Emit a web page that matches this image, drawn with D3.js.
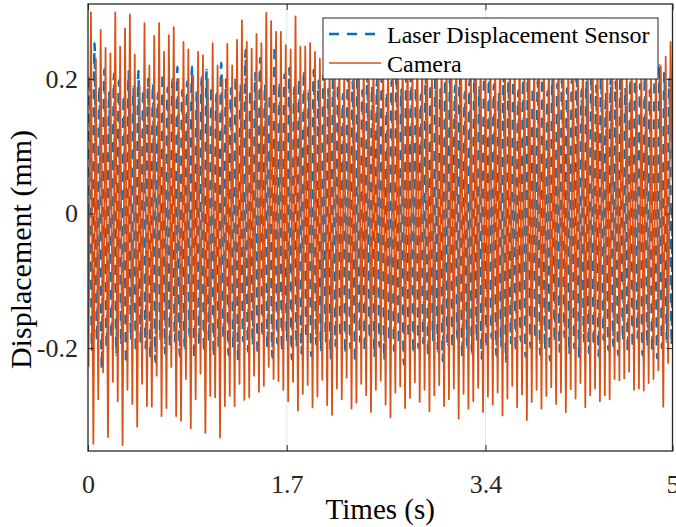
<!DOCTYPE html>
<html>
<head>
<meta charset="utf-8">
<script src="https://cdn.jsdelivr.net/npm/d3@7"></script>
<style>
  body { margin: 0; background: #fff; }
  svg { display: block; }
  text { font-family: "Times New Roman", "Liberation Serif", serif; }
</style>
</head>
<body>
<svg id="chart" width="676" height="527"></svg>
<script>
// ---- data -------------------------------------------------------------
const duration = 5;            // seconds on the time axis
const xTicks = [0, 1.7, 3.4, 5];
const xTickLabels = ["0", "1.7", "3.4", "5"];
const yTicks = [-0.2, 0, 0.2];
const yTickLabels = ["-0.2", "0", "0.2"];
const yDomain = [-0.3529, 0.3113];

// camera: crest and trough of each oscillation cycle (mm)
const cameraPeaks = [
  .299, .23, .273, .246, .238, .299, .248, .275, .296, .236,
  .19, .283, .22, .264, .283, .24, .265, .277, .2, .255,
  .244, .205, .24, .235, .2, .253, .22, .2, .252, .22,
  .258, .287, .255, .245, .267, .253, .298, .286, .27, .27,
  .25, .244, .293, .248, .248, .253, .24, .23,
  .262, .238, .271, .25, .226, .279, .244, .258, .232, .268,
  .247, .281, .236, .255, .222, .27, .249, .263, .231, .276,
  .241, .259, .228, .284, .246, .253, .235, .269, .24, .261,
  .225, .274, .25, .237, .266, .243, .28, .229, .257, .248,
  .271, .233, .262, .245, .277, .238, .254, .226, .268, .251,
  .236, .279, .243, .26, .229, .272, .247, .256, .234, .265,
  .24, .27, .231, .258, .245, .226, .262, .215, .24,
  .219, .233, .255
];
const cameraTroughs = [
  -.227, -.342, -.276, -.236, -.332, -.25, -.279, -.344, -.262, -.283,
  -.317, -.253, -.286, -.287, -.241, -.301, -.289, -.228, -.301, -.308,
  -.246, -.319, -.276, -.238, -.326, -.271, -.273, -.333, -.286, -.271,
  -.286, -.253, -.277, -.273, -.241, -.265, -.256, -.228, -.246, -.249,
  -.262, -.279, -.25, -.293, -.268, -.255, -.288, -.272, -.247, -.285,
  -.299, -.26, -.276, -.244, -.29, -.281, -.253, -.27, -.295, -.262,
  -.248, -.284, -.303, -.266, -.257, -.289, -.274, -.251, -.28, -.262,
  -.294, -.27, -.255, -.286, -.276, -.26, -.305, -.268, -.29, -.279,
  -.259, -.295, -.272, -.284, -.266, -.3, -.275, -.256, -.288, -.269,
  -.307, -.28, -.262, -.29, -.271, -.258, -.283, -.266, -.295, -.261,
  -.275, -.252, -.288, -.27, -.26, -.279, -.27, -.276, -.246, -.248,
  -.245, -.235, -.262, -.26, -.263, -.252, -.246, -.233, -.287, -.222
];

// laser displacement sensor: crest and trough of each cycle (mm)
const laserPeaks = [
  .205, .253, .19, .214, .182, .208, .197, .176, .211, .188,
  .212, .185, .2, .194, .179, .209, .187, .2, .218, .183,
  .196, .218, .181, .203, .213, .19, .178, .224, .199, .186,
  .205, .192, .243, .184, .209, .231, .193, .178, .25, .196,
  .207, .216, .188, .2, .213, .182, .213, .197, .205, .185,
  .21, .192, .178, .203, .196, .214, .183, .206, .19, .2,
  .215, .181, .197, .209, .186, .202, .218, .189, .177, .205,
  .193, .211, .184, .2, .207, .19, .216, .18, .198, .208,
  .187, .203, .214, .192, .179, .206, .196, .211, .183, .2,
  .209, .188, .197, .215, .182, .204, .193, .21, .186, .2,
  .212, .184, .198, .207, .19, .215, .18, .203, .196, .209,
  .187, .2, .213, .192, .205, .183, .199, .22, .21, .2
];
const laserTroughs = [
  -.205, -.19, -.23, -.2, -.185, -.21, -.196, -.224, -.188, -.207,
  -.193, -.2, -.215, -.221, -.186, -.209, -.198, -.19, -.212, -.2,
  -.183, -.216, -.195, -.207, -.19, -.213, -.198, -.186, -.21, -.2,
  -.219, -.19, -.205, -.196, -.211, -.184, -.2, -.214, -.193, -.205,
  -.188, -.217, -.199, -.208, -.186, -.212, -.195, -.203, -.19, -.215,
  -.197, -.185, -.209, -.2, -.222, -.191, -.206, -.187, -.213, -.198,
  -.218, -.19, -.204, -.195, -.224, -.186, -.209, -.2, -.193, -.212,
  -.188, -.205, -.219, -.194, -.201, -.187, -.214, -.198, -.208, -.19,
  -.216, -.2, -.185, -.211, -.197, -.22, -.193, -.206, -.189, -.213,
  -.199, -.187, -.21, -.203, -.218, -.192, -.205, -.184, -.209, -.2,
  -.214, -.191, -.207, -.196, -.212, -.188, -.203, -.197, -.21, -.19,
  -.206, -.2, -.185, -.211, -.198, -.205, -.215, -.2, -.19, -.196
];

// ---- layout -----------------------------------------------------------
const plot = { left: 88, right: 672.5, top: 4, bottom: 451 };
const axisColor = "#262626";
const cameraColor = "#D95319";
const laserColor = "#0072BD";

const svg = d3.select("#chart");
const x = d3.scaleLinear().domain([0, duration]).range([plot.left, plot.right]);
const y = d3.scaleLinear().domain(yDomain).range([plot.bottom, plot.top]);

// Put crests and troughs at their positions within each cycle.
function buildSeries(peaks, troughs, peakPhase, troughPhase, startValue, endValue) {
  const period = duration / peaks.length;
  const pts = [{ t: 0, v: startValue }];
  peaks.forEach((v, i) => pts.push({ t: (i + peakPhase) * period, v }));
  troughs.forEach((v, i) => pts.push({ t: (i + troughPhase) * period, v }));
  pts.push({ t: duration, v: endValue });
  return pts.filter(p => p.t >= 0 && p.t <= duration).sort((a, b) => a.t - b.t);
}

const cameraSeries = buildSeries(cameraPeaks, cameraTroughs, 0.6, 0.1, 0, 0.05);
const laserSeries = buildSeries(laserPeaks, laserTroughs, 0.35, 0.85, 0, 0.02);

svg.append("defs").append("clipPath").attr("id", "plotClip")
  .append("rect")
  .attr("x", plot.left).attr("y", plot.top)
  .attr("width", plot.right - plot.left).attr("height", plot.bottom - plot.top);

// grid
const grid = svg.append("g").attr("stroke", "#e3e3e3").attr("stroke-width", 1);
grid.selectAll(".gx").data(xTicks.slice(1, -1)).join("line")
  .attr("x1", d => x(d)).attr("x2", d => x(d))
  .attr("y1", plot.top).attr("y2", plot.bottom);
grid.selectAll(".gy").data(yTicks).join("line")
  .attr("x1", plot.left).attr("x2", plot.right)
  .attr("y1", d => y(d)).attr("y2", d => y(d));

// series
const dataG = svg.append("g").attr("clip-path", "url(#plotClip)");
dataG.append("path")
  .attr("d", d3.line().x(d => x(d.t)).y(d => y(d.v)).curve(d3.curveMonotoneX)(laserSeries))
  .attr("fill", "none")
  .attr("stroke", laserColor)
  .attr("stroke-width", 2.6)
  .attr("stroke-dasharray", "10,8");
dataG.append("path")
  .attr("d", d3.line().x(d => x(d.t)).y(d => y(d.v))(cameraSeries))
  .attr("fill", "none")
  .attr("stroke", cameraColor)
  .attr("stroke-width", 1.8)
  .attr("stroke-linejoin", "round");

// axes: box with inward ticks on all four sides
const tickLen = 6;
const tickFont = "26px";
const xAxisB = d3.axisBottom(x).tickValues(xTicks).tickFormat((d, i) => xTickLabels[i])
  .tickSizeInner(-tickLen).tickSizeOuter(0).tickPadding(24);
const xAxisT = d3.axisTop(x).tickValues(xTicks).tickFormat("")
  .tickSizeInner(-tickLen).tickSizeOuter(0);
const yAxisL = d3.axisLeft(y).tickValues(yTicks).tickFormat((d, i) => yTickLabels[i])
  .tickSizeInner(-tickLen).tickSizeOuter(0).tickPadding(10);
const yAxisR = d3.axisRight(y).tickValues(yTicks).tickFormat("")
  .tickSizeInner(-tickLen).tickSizeOuter(0);

function styleAxis(g) {
  g.select(".domain").remove();
  g.selectAll(".tick line").attr("stroke", axisColor).attr("stroke-width", 1);
  g.selectAll(".tick text").attr("fill", axisColor)
    .style("font-family", '"Times New Roman", "Liberation Serif", serif')
    .style("font-size", tickFont);
}
svg.append("g").attr("transform", `translate(0,${plot.bottom})`).call(xAxisB).call(styleAxis);
svg.append("g").attr("transform", `translate(0,${plot.top})`).call(xAxisT).call(styleAxis);
svg.append("g").attr("transform", `translate(${plot.left},0)`).call(yAxisL).call(styleAxis);
svg.append("g").attr("transform", `translate(${plot.right},0)`).call(yAxisR).call(styleAxis);

svg.append("rect")
  .attr("x", plot.left).attr("y", plot.top)
  .attr("width", plot.right - plot.left).attr("height", plot.bottom - plot.top)
  .attr("fill", "none").attr("stroke", axisColor).attr("stroke-width", 1.3);

// axis titles
svg.append("text")
  .attr("x", (plot.left + plot.right) / 2).attr("y", 519)
  .attr("text-anchor", "middle").attr("font-size", 29).attr("fill", "#000")
  .text("Times (s)");
svg.append("text")
  .attr("transform", `translate(31,${(plot.top + plot.bottom) / 2 + 22}) rotate(-90)`)
  .attr("text-anchor", "middle").attr("font-size", 30).attr("fill", "#000")
  .text("Displacement (mm)");

// legend
const legend = svg.append("g");
legend.append("rect")
  .attr("x", 323).attr("y", 18).attr("width", 335).attr("height", 61)
  .attr("fill", "#fff").attr("stroke", axisColor).attr("stroke-width", 1);
const legendItems = [
  { label: "Laser Displacement Sensor", color: laserColor, dash: "10,8", width: 2.6, cy: 34, by: 43 },
  { label: "Camera", color: cameraColor, dash: null, width: 1.6, cy: 63, by: 72 }
];
legendItems.forEach(it => {
  legend.append("line")
    .attr("x1", 329).attr("x2", 381).attr("y1", it.cy).attr("y2", it.cy)
    .attr("stroke", it.color).attr("stroke-width", it.width)
    .attr("stroke-dasharray", it.dash);
  legend.append("text")
    .attr("x", 387).attr("y", it.by)
    .attr("font-size", 24).attr("fill", "#000")
    .text(it.label);
});
</script>
</body>
</html>
